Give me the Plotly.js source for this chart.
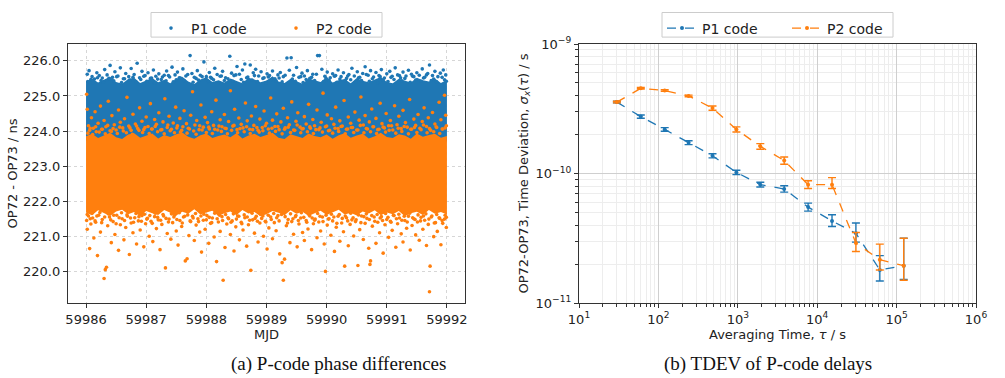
<!DOCTYPE html>
<html>
<head>
<meta charset="utf-8">
<script src="https://cdn.plot.ly/plotly-3.0.1.min.js"></script>
<style>html,body{margin:0;padding:0;background:#fff;}#chart{width:1005px;height:378px;}</style>
</head>
<body>
<div id="chart"></div>
<script>
// ---------- (a) P-code phase differences : dense core of each cloud (edges) ----------
const bandMjd = [59986.0,59986.1,59986.2,59986.3,59986.4,59986.5,59986.6,59986.7,59986.8,59986.9,
59987.0,59987.1,59987.2,59987.3,59987.4,59987.5,59987.6,59987.7,59987.8,59987.9,
59988.0,59988.1,59988.2,59988.3,59988.4,59988.5,59988.6,59988.7,59988.8,59988.9,
59989.0,59989.1,59989.2,59989.3,59989.4,59989.5,59989.6,59989.7,59989.8,59989.9,
59990.0,59990.1,59990.2,59990.3,59990.4,59990.5,59990.6,59990.7,59990.8,59990.9,
59991.0,59991.1,59991.2,59991.3,59991.4,59991.5,59991.6,59991.7,59991.8,59991.9,59992.0];
const p1CoreTop = [225.42,225.50,225.38,225.46,225.55,225.40,225.35,225.48,225.52,225.37,
225.44,225.51,225.39,225.46,225.36,225.49,225.55,225.41,225.34,225.47,
225.53,225.40,225.45,225.38,225.50,225.43,225.36,225.52,225.47,225.39,
225.44,225.56,225.41,225.37,225.49,225.42,225.35,225.50,225.46,225.40,
225.53,225.38,225.45,225.48,225.36,225.51,225.43,225.39,225.47,225.54,
225.40,225.36,225.49,225.44,225.38,225.52,225.45,225.41,225.50,225.37,225.46];
const p1CoreBottom = [223.72,223.68,223.75,223.70,223.66,223.73,223.69,223.74,223.67,223.71,
223.70,223.74,223.66,223.72,223.68,223.75,223.69,223.71,223.67,223.73,
223.72,223.68,223.75,223.70,223.66,223.73,223.69,223.74,223.67,223.71,
223.70,223.74,223.66,223.72,223.68,223.75,223.69,223.71,223.67,223.73,
223.72,223.68,223.75,223.70,223.66,223.73,223.69,223.74,223.67,223.71,
223.70,223.74,223.66,223.72,223.68,223.75,223.69,223.71,223.67,223.73,223.70];
const p2CoreTop = [223.85,223.92,223.80,223.88,223.95,223.82,223.77,223.90,223.94,223.81,
223.87,223.93,223.79,223.89,223.83,223.91,223.96,223.84,223.78,223.88,
223.93,223.80,223.86,223.90,223.82,223.94,223.79,223.87,223.92,223.83,
223.89,223.95,223.81,223.77,223.91,223.85,223.80,223.93,223.86,223.82,
223.90,223.78,223.88,223.94,223.81,223.87,223.92,223.79,223.85,223.95,
223.83,223.80,223.91,223.87,223.78,223.93,223.84,223.89,223.92,223.81,223.86];
const p2CoreBottom = [221.68,221.60,221.74,221.65,221.58,221.71,221.76,221.63,221.69,221.57,
221.72,221.66,221.61,221.75,221.67,221.59,221.70,221.64,221.77,221.62,
221.68,221.73,221.58,221.66,221.71,221.60,221.75,221.65,221.69,221.57,
221.63,221.72,221.67,221.60,221.74,221.64,221.70,221.58,221.66,221.73,
221.61,221.69,221.76,221.62,221.67,221.59,221.71,221.65,221.74,221.60,
221.68,221.63,221.72,221.57,221.66,221.70,221.61,221.75,221.64,221.69,221.62];

// ---------- (a) individual samples outside / at the edge of the dense cores: [MJD, ns] ----------
const p1Outer = [[59986.02,225.62],[59986.05,225.72],[59986.10,225.55],[59986.14,225.48],[59986.18,225.66],[59986.22,225.58],[59986.27,225.51],[59986.31,225.75],[59986.35,225.60],[59986.40,225.87],[59986.44,225.53],[59986.48,225.69],[59986.53,225.57],[59986.57,225.80],[59986.62,225.49],[59986.66,225.64],[59986.71,225.55],[59986.75,225.78],[59986.80,225.61],[59986.85,225.93],[59986.89,225.52],[59986.93,225.70],[59986.98,225.58],[59987.03,225.66],[59987.07,225.50],[59987.12,225.74],[59987.16,225.56],[59987.21,225.63],[59987.25,225.47],[59987.30,225.59],[59987.34,225.71],[59987.39,225.54],[59987.43,225.82],[59987.48,225.60],[59987.52,225.68],[59987.57,225.51],[59987.61,225.77],[59987.66,225.57],[59987.73,226.15],[59987.76,225.64],[59987.80,225.53],[59987.85,225.72],[59987.90,225.59],[59987.96,225.97],[59988.00,225.55],[59988.05,225.67],[59988.09,225.50],[59988.14,225.79],[59988.18,225.61],[59988.23,225.56],[59988.27,225.70],[59988.32,225.52],[59988.39,226.13],[59988.42,225.65],[59988.46,225.58],[59988.51,225.84],[59988.55,225.62],[59988.60,225.74],[59988.64,225.91],[59988.69,225.54],[59988.73,225.88],[59988.78,225.66],[59988.82,225.76],[59988.87,225.57],[59988.91,225.69],[59988.96,225.52],[59989.01,225.63],[59989.05,225.58],[59989.10,225.71],[59989.14,225.49],[59989.19,225.60],[59989.23,225.67],[59989.28,225.55],[59989.34,226.08],[59989.38,225.73],[59989.41,226.09],[59989.45,225.59],[59989.50,225.81],[59989.54,225.53],[59989.59,225.65],[59989.63,225.57],[59989.68,225.72],[59989.72,225.50],[59989.77,225.62],[59989.85,226.15],[59989.88,226.15],[59989.92,225.76],[59989.97,225.56],[59990.01,225.68],[59990.06,225.52],[59990.10,225.63],[59990.15,225.58],[59990.19,225.74],[59990.24,225.55],[59990.28,225.66],[59990.33,225.50],[59990.37,225.61],[59990.42,225.79],[59990.46,225.57],[59990.51,225.69],[59990.55,225.53],[59990.60,225.64],[59990.64,225.83],[59990.69,225.59],[59990.73,225.72],[59990.78,225.54],[59990.82,225.67],[59990.87,225.58],[59990.91,225.75],[59990.96,225.51],[59991.00,225.63],[59991.05,225.70],[59991.09,225.56],[59991.14,225.80],[59991.18,225.60],[59991.23,225.52],[59991.27,225.68],[59991.32,225.57],[59991.36,225.73],[59991.41,225.62],[59991.45,225.55],[59991.50,225.66],[59991.54,225.59],[59991.59,225.77],[59991.63,225.53],[59991.68,225.64],[59991.71,225.88],[59991.76,225.58],[59991.80,225.70],[59991.85,225.55],[59991.89,225.65],[59991.94,225.74],[59991.98,225.60]];

const p1Edge = [[59986.03,225.41],[59986.08,225.47],[59986.12,225.36],[59986.19,225.52],[59986.25,225.44],[59986.29,225.39],[59986.38,225.50],[59986.46,225.43],[59986.51,225.55],[59986.59,225.38],[59986.64,225.49],[59986.73,225.45],[59986.78,225.53],[59986.83,225.40],[59986.91,225.47],[59986.96,225.56],[59987.01,225.42],[59987.09,225.51],[59987.14,225.37],[59987.19,225.48],[59987.27,225.54],[59987.33,225.43],[59987.37,225.58],[59987.45,225.40],[59987.50,225.46],[59987.55,225.52],[59987.63,225.44],[59987.69,225.61],[59987.78,225.39],[59987.83,225.50],[59987.87,225.45],[59987.93,225.55],[59988.03,225.41],[59988.07,225.53],[59988.12,225.46],[59988.21,225.38],[59988.25,225.57],[59988.30,225.44],[59988.36,225.49],[59988.44,225.42],[59988.49,225.60],[59988.58,225.47],[59988.62,225.39],[59988.67,225.52],[59988.76,225.45],[59988.80,225.58],[59988.85,225.41],[59988.94,225.50],[59988.99,225.37],[59989.03,225.54],[59989.08,225.46],[59989.16,225.43],[59989.21,225.51],[59989.26,225.40],[59989.31,225.59],[59989.43,225.48],[59989.48,225.42],[59989.57,225.55],[59989.61,225.38],[59989.66,225.47],[59989.75,225.53],[59989.80,225.44],[59989.83,225.62],[59989.95,225.41],[59989.99,225.50],[59990.04,225.45],[59990.13,225.56],[59990.17,225.39],[59990.22,225.48],[59990.31,225.43],[59990.35,225.57],[59990.40,225.46],[59990.49,225.40],[59990.53,225.52],[59990.58,225.44],[59990.66,225.61],[59990.71,225.42],[59990.76,225.49],[59990.85,225.38],[59990.89,225.55],[59990.94,225.46],[59991.02,225.41],[59991.07,225.53],[59991.12,225.47],[59991.21,225.58],[59991.25,225.43],[59991.30,225.50],[59991.39,225.39],[59991.43,225.56],[59991.48,225.45],[59991.57,225.42],[59991.61,225.51],[59991.66,225.60],[59991.74,225.44],[59991.78,225.48],[59991.83,225.40],[59991.92,225.53],[59991.96,225.46],[59991.99,225.42]];

const p2OuterHigh = [[59986.01,225.05],[59986.02,224.62],[59986.04,224.15],[59986.06,224.02],[59986.09,224.38],[59986.12,224.08],[59986.15,224.55],[59986.17,223.98],[59986.20,224.22],[59986.24,224.71],[59986.27,224.05],[59986.30,224.30],[59986.33,224.12],[59986.37,224.85],[59986.40,224.01],[59986.43,224.44],[59986.47,224.18],[59986.50,224.03],[59986.54,224.60],[59986.57,224.25],[59986.61,224.09],[59986.64,224.35],[59986.68,224.96],[59986.71,224.14],[59986.75,224.02],[59986.78,224.48],[59986.82,224.20],[59986.86,224.07],[59986.89,224.66],[59986.93,224.28],[59986.96,224.04],[59987.00,224.40],[59987.03,224.13],[59987.07,224.78],[59987.10,224.06],[59987.14,224.33],[59987.17,224.19],[59987.21,224.52],[59987.24,224.03],[59987.28,224.26],[59987.31,224.92],[59987.35,224.10],[59987.38,224.42],[59987.42,224.05],[59987.45,224.23],[59987.49,224.68],[59987.52,224.15],[59987.56,224.36],[59987.59,224.02],[59987.63,224.58],[59987.67,224.21],[59987.70,224.08],[59987.74,224.45],[59987.77,225.12],[59987.81,224.17],[59987.84,224.30],[59987.88,224.04],[59987.91,224.74],[59987.95,224.11],[59987.98,224.39],[59988.02,224.24],[59988.05,224.06],[59988.09,224.55],[59988.12,224.16],[59988.16,224.88],[59988.19,224.03],[59988.23,224.32],[59988.26,224.12],[59988.30,224.47],[59988.33,224.07],[59988.37,224.27],[59988.40,225.15],[59988.44,224.14],[59988.47,224.62],[59988.51,224.04],[59988.54,224.37],[59988.58,224.19],[59988.61,224.09],[59988.65,224.80],[59988.68,224.29],[59988.72,224.05],[59988.75,224.43],[59988.79,224.16],[59988.82,224.70],[59988.86,224.02],[59988.89,224.34],[59988.93,224.10],[59988.96,224.57],[59989.00,224.22],[59989.03,224.06],[59989.07,224.94],[59989.10,224.31],[59989.14,224.13],[59989.17,224.49],[59989.21,224.04],[59989.24,224.26],[59989.28,224.65],[59989.31,224.09],[59989.35,224.38],[59989.38,224.18],[59989.42,224.83],[59989.45,224.03],[59989.49,224.28],[59989.52,224.52],[59989.56,224.11],[59989.59,224.06],[59989.63,224.41],[59989.66,224.20],[59989.70,224.76],[59989.73,224.08],[59989.77,224.33],[59989.80,224.15],[59989.84,224.60],[59989.87,224.04],[59989.91,224.25],[59989.94,225.08],[59989.98,224.12],[59990.01,224.46],[59990.05,224.02],[59990.08,224.35],[59990.12,224.19],[59990.15,224.68],[59990.19,224.07],[59990.22,224.29],[59990.26,224.14],[59990.29,224.87],[59990.33,224.05],[59990.36,224.40],[59990.40,224.22],[59990.43,224.10],[59990.47,224.54],[59990.50,224.03],[59990.54,224.31],[59990.57,224.97],[59990.61,224.17],[59990.64,224.44],[59990.68,224.06],[59990.71,224.26],[59990.75,224.63],[59990.78,224.12],[59990.82,224.36],[59990.85,224.04],[59990.89,224.79],[59990.92,224.21],[59990.96,224.09],[59990.99,224.50],[59991.03,224.15],[59991.06,224.30],[59991.10,224.03],[59991.13,224.72],[59991.17,224.18],[59991.20,224.42],[59991.24,224.07],[59991.27,224.59],[59991.31,224.24],[59991.34,224.11],[59991.38,224.90],[59991.41,224.05],[59991.45,224.34],[59991.48,224.16],[59991.52,224.47],[59991.55,224.08],[59991.59,224.27],[59991.62,224.66],[59991.66,224.13],[59991.69,224.38],[59991.73,224.02],[59991.76,224.53],[59991.80,224.20],[59991.83,224.10],[59991.87,224.82],[59991.90,224.32],[59991.93,224.06],[59991.96,225.02],[59991.98,224.45],[59991.99,224.15]];

const p2EdgeHigh = [[59986.03,223.94],[59986.07,224.08],[59986.11,223.90],[59986.16,224.12],[59986.22,223.97],[59986.26,224.05],[59986.32,223.92],[59986.36,224.16],[59986.42,223.99],[59986.45,224.07],[59986.52,223.93],[59986.56,224.11],[59986.62,224.00],[59986.67,223.95],[59986.73,224.09],[59986.77,223.91],[59986.84,224.14],[59986.88,224.02],[59986.94,223.96],[59986.98,224.10],[59987.05,223.93],[59987.09,224.06],[59987.15,224.13],[59987.19,223.98],[59987.26,224.04],[59987.30,223.92],[59987.36,224.17],[59987.40,224.01],[59987.47,223.95],[59987.51,224.09],[59987.57,223.97],[59987.61,224.12],[59987.68,223.94],[59987.72,224.06],[59987.79,224.00],[59987.83,223.91],[59987.89,224.15],[59987.93,224.03],[59988.00,223.96],[59988.04,224.11],[59988.10,223.93],[59988.14,224.05],[59988.21,224.14],[59988.25,223.99],[59988.31,224.08],[59988.35,223.92],[59988.42,224.02],[59988.46,224.16],[59988.52,223.95],[59988.56,224.07],[59988.63,223.98],[59988.67,224.12],[59988.73,223.93],[59988.77,224.04],[59988.84,224.10],[59988.88,223.97],[59988.94,224.01],[59988.98,224.15],[59989.05,223.94],[59989.09,224.08],[59989.15,223.99],[59989.19,224.13],[59989.26,223.92],[59989.30,224.05],[59989.36,224.11],[59989.40,223.96],[59989.47,224.02],[59989.51,224.17],[59989.57,223.95],[59989.61,224.07],[59989.68,223.98],[59989.72,224.12],[59989.78,223.93],[59989.82,224.04],[59989.89,224.09],[59989.93,223.97],[59990.00,224.14],[59990.03,224.01],[59990.10,223.94],[59990.14,224.08],[59990.20,223.99],[59990.24,224.13],[59990.31,223.92],[59990.35,224.06],[59990.41,224.10],[59990.45,223.96],[59990.52,224.03],[59990.56,224.16],[59990.62,223.95],[59990.66,224.07],[59990.73,223.98],[59990.77,224.12],[59990.83,223.93],[59990.87,224.05],[59990.94,224.11],[59990.98,223.97],[59991.04,224.02],[59991.08,224.15],[59991.15,223.94],[59991.19,224.08],[59991.25,223.99],[59991.29,224.13],[59991.36,223.92],[59991.40,224.05],[59991.46,224.10],[59991.50,223.96],[59991.57,224.04],[59991.61,224.17],[59991.67,223.95],[59991.71,224.07],[59991.78,223.98],[59991.82,224.12],[59991.88,223.93],[59991.92,224.06],[59991.97,224.09]];

const p2OuterLow = [[59986.01,221.45],[59986.02,221.20],[59986.04,221.58],[59986.06,220.65],[59986.08,221.35],[59986.11,221.52],[59986.13,220.95],[59986.16,221.40],[59986.19,220.45],[59986.21,221.60],[59986.24,221.12],[59986.27,221.48],[59986.30,219.80],[59986.32,220.05],[59986.34,220.12],[59986.36,221.30],[59986.39,221.55],[59986.42,220.82],[59986.45,221.42],[59986.48,221.05],[59986.51,221.60],[59986.54,220.60],[59986.57,221.33],[59986.60,221.50],[59986.63,220.90],[59986.66,221.25],[59986.69,221.57],[59986.72,220.48],[59986.75,221.38],[59986.78,221.10],[59986.81,221.53],[59986.84,220.78],[59986.87,221.44],[59986.90,221.18],[59986.93,221.59],[59986.96,220.70],[59986.99,221.36],[59987.02,221.51],[59987.05,221.00],[59987.08,221.43],[59987.11,220.85],[59987.14,221.56],[59987.17,221.22],[59987.20,221.47],[59987.23,220.62],[59987.26,221.34],[59987.29,221.58],[59987.32,220.10],[59987.35,221.08],[59987.38,221.49],[59987.41,220.92],[59987.44,221.39],[59987.47,221.60],[59987.50,221.15],[59987.53,220.75],[59987.56,221.45],[59987.59,221.28],[59987.62,221.55],[59987.65,220.30],[59987.68,220.36],[59987.71,221.02],[59987.74,221.42],[59987.77,221.57],[59987.80,220.88],[59987.83,221.32],[59987.86,221.50],[59987.89,221.12],[59987.92,220.55],[59987.95,221.46],[59987.98,221.20],[59988.01,221.59],[59988.04,220.80],[59988.07,221.37],[59988.10,221.52],[59988.13,220.98],[59988.17,220.28],[59988.20,221.41],[59988.23,221.14],[59988.26,221.56],[59988.28,219.75],[59988.31,220.68],[59988.34,221.35],[59988.37,221.50],[59988.40,221.05],[59988.43,221.44],[59988.46,220.58],[59988.49,221.27],[59988.52,221.58],[59988.55,220.90],[59988.58,221.40],[59988.61,221.18],[59988.64,221.53],[59988.67,220.72],[59988.70,221.33],[59988.74,220.03],[59988.77,221.47],[59988.80,221.09],[59988.83,221.57],[59988.86,220.84],[59988.89,221.38],[59988.92,221.51],[59988.95,221.00],[59988.98,221.43],[59989.01,220.64],[59989.04,221.24],[59989.07,221.55],[59989.10,220.93],[59989.13,221.39],[59989.16,221.16],[59989.19,221.59],[59989.22,220.50],[59989.26,220.25],[59989.28,219.75],[59989.30,220.35],[59989.33,221.30],[59989.36,221.48],[59989.39,220.82],[59989.42,221.42],[59989.45,221.06],[59989.48,221.56],[59989.51,220.70],[59989.54,221.35],[59989.57,221.52],[59989.60,221.11],[59989.63,220.88],[59989.66,221.45],[59989.69,221.21],[59989.72,221.58],[59989.75,220.62],[59989.78,221.36],[59989.81,221.49],[59989.84,220.96],[59989.87,221.41],[59989.90,221.15],[59989.93,221.55],[59989.96,220.78],[59989.98,220.00],[59990.01,221.32],[59990.04,221.50],[59990.07,221.03],[59990.10,221.44],[59990.13,220.57],[59990.16,221.26],[59990.19,221.57],[59990.22,220.86],[59990.25,221.38],[59990.28,221.13],[59990.30,220.15],[59990.33,221.53],[59990.36,220.73],[59990.39,221.34],[59990.42,221.47],[59990.45,221.01],[59990.48,221.42],[59990.52,220.17],[59990.55,221.19],[59990.58,221.58],[59990.61,220.91],[59990.64,221.37],[59990.67,221.51],[59990.70,220.66],[59990.72,220.20],[59990.73,220.30],[59990.76,221.29],[59990.79,221.55],[59990.82,220.80],[59990.85,221.40],[59990.88,221.10],[59990.91,221.56],[59990.94,220.52],[59990.97,221.33],[59991.00,221.48],[59991.03,220.97],[59991.06,221.43],[59991.09,221.17],[59991.12,221.59],[59991.15,220.69],[59991.18,221.36],[59991.21,221.52],[59991.24,221.07],[59991.27,220.84],[59991.30,221.45],[59991.33,221.23],[59991.36,221.57],[59991.39,220.61],[59991.42,221.31],[59991.45,221.50],[59991.48,221.04],[59991.51,221.41],[59991.54,220.89],[59991.57,221.54],[59991.60,221.20],[59991.63,221.46],[59991.66,220.74],[59991.69,221.34],[59991.71,219.42],[59991.72,220.15],[59991.75,221.58],[59991.78,220.99],[59991.81,221.39],[59991.84,221.14],[59991.87,221.53],[59991.90,220.76],[59991.93,221.37],[59991.96,221.49],[59991.99,221.25]];

const p2EdgeLow = [[59986.02,221.62],[59986.07,221.50],[59986.10,221.66],[59986.15,221.44],[59986.18,221.58],[59986.23,221.68],[59986.26,221.39],[59986.31,221.55],[59986.37,221.64],[59986.41,221.47],[59986.46,221.60],[59986.50,221.36],[59986.55,221.53],[59986.59,221.67],[59986.64,221.45],[59986.68,221.61],[59986.74,221.52],[59986.79,221.40],[59986.83,221.65],[59986.88,221.56],[59986.92,221.43],[59986.97,221.63],[59987.01,221.49],[59987.06,221.59],[59987.10,221.37],[59987.15,221.66],[59987.19,221.54],[59987.24,221.46],[59987.28,221.62],[59987.33,221.51],[59987.37,221.41],[59987.42,221.64],[59987.46,221.55],[59987.51,221.48],[59987.55,221.67],[59987.60,221.38],[59987.64,221.57],[59987.69,221.61],[59987.73,221.44],[59987.78,221.52],[59987.82,221.65],[59987.87,221.42],[59987.91,221.58],[59987.96,221.63],[59988.00,221.47],[59988.05,221.54],[59988.09,221.39],[59988.14,221.66],[59988.18,221.50],[59988.22,221.60],[59988.27,221.45],[59988.32,221.62],[59988.36,221.53],[59988.41,221.40],[59988.45,221.64],[59988.50,221.49],[59988.54,221.57],[59988.59,221.36],[59988.63,221.61],[59988.68,221.55],[59988.72,221.46],[59988.76,221.66],[59988.81,221.51],[59988.85,221.43],[59988.90,221.63],[59988.94,221.58],[59988.99,221.41],[59989.03,221.60],[59989.08,221.48],[59989.12,221.65],[59989.17,221.53],[59989.21,221.44],[59989.25,221.62],[59989.31,221.56],[59989.35,221.38],[59989.40,221.64],[59989.44,221.50],[59989.49,221.59],[59989.53,221.45],[59989.58,221.67],[59989.62,221.54],[59989.67,221.40],[59989.71,221.61],[59989.76,221.52],[59989.80,221.46],[59989.85,221.65],[59989.89,221.57],[59989.94,221.42],[59989.99,221.60],[59990.03,221.49],[59990.08,221.63],[59990.12,221.55],[59990.17,221.37],[59990.21,221.62],[59990.26,221.51],[59990.31,221.58],[59990.35,221.44],[59990.40,221.66],[59990.44,221.53],[59990.49,221.47],[59990.53,221.61],[59990.57,221.39],[59990.62,221.56],[59990.66,221.64],[59990.71,221.48],[59990.75,221.59],[59990.80,221.43],[59990.84,221.62],[59990.89,221.52],[59990.93,221.45],[59990.98,221.65],[59991.02,221.54],[59991.07,221.40],[59991.11,221.60],[59991.16,221.50],[59991.20,221.63],[59991.25,221.46],[59991.29,221.57],[59991.34,221.41],[59991.38,221.66],[59991.43,221.53],[59991.47,221.48],[59991.52,221.61],[59991.56,221.44],[59991.61,221.58],[59991.65,221.64],[59991.70,221.49],[59991.74,221.55],[59991.79,221.38],[59991.83,221.62],[59991.88,221.51],[59991.92,221.45],[59991.97,221.60],[59991.99,221.54]];

// ---------- (b) TDEV of P-code delays ----------
const tau = [30, 60, 120, 240, 480, 960, 1920, 3840, 7680, 15360, 30720, 61440, 122880];
const p1Tdev = [3.56e-10, 2.75e-10, 2.19e-10, 1.73e-10, 1.37e-10, 1.02e-10, 8.2e-11, 7.6e-11, 5.5e-11, 4.3e-11, 3.45e-11, 1.80e-11, 1.94e-11];
const p1ErrUp = [0.5e-11, 0.8e-11, 0.7e-11, 0.6e-11, 0.5e-11, 0.4e-11, 0.35e-11, 0.45e-11, 0.4e-11, 0.5e-11, 0.7e-11, 0.52e-11, 1.22e-11];
const p1ErrDown = [0.5e-11, 0.8e-11, 0.7e-11, 0.6e-11, 0.5e-11, 0.4e-11, 0.33e-11, 0.42e-11, 0.38e-11, 0.4e-11, 0.5e-11, 0.32e-11, 0.42e-11];
const p2Tdev = [3.56e-10, 4.55e-10, 4.37e-10, 3.97e-10, 3.2e-10, 2.19e-10, 1.62e-10, 1.26e-10, 8.2e-11, 8.2e-11, 2.9e-11, 2.16e-11, 1.94e-11];
const p2ErrUp = [0.5e-11, 0.6e-11, 0.6e-11, 0.6e-11, 1.2e-11, 1.0e-11, 0.8e-11, 0.8e-11, 0.6e-11, 1.1e-11, 0.6e-11, 0.69e-11, 1.22e-11];
const p2ErrDown = [0.5e-11, 0.6e-11, 0.6e-11, 0.6e-11, 1.2e-11, 1.0e-11, 0.8e-11, 0.8e-11, 0.55e-11, 0.55e-11, 0.4e-11, 0.36e-11, 0.44e-11];

const seriesNames = ['P1 code', 'P2 code'];
const leftYTicks = [220, 221, 222, 223, 224, 225, 226];
const leftXTicks = [59986, 59987, 59988, 59989, 59990, 59991, 59992];
const xDecades = [1, 2, 3, 4, 5, 6];
const yDecades = [-11, -10, -9];

// ---------- styling ----------
const BLUE = '#1f77b4', ORANGE = '#ff7f0e';
const FONT = 'DejaVu Sans, sans-serif';
const TXT = '#222';
const pow10 = e => Math.pow(10, e);
const supText = e => '10<sup>' + (e < 0 ? '\u2212' + (-e) : e) + '</sup>';
function minorVals(decs) {
  const out = [];
  for (let i = 0; i < decs.length - 1; i++) for (let m = 2; m <= 9; m++) out.push(m * pow10(decs[i]));
  return out;
}
const xs = (...arrs) => [].concat(...arrs.map(a => a.map(p => p[0])));
const ys = (...arrs) => [].concat(...arrs.map(a => a.map(p => p[1])));

const common = {hoverinfo: 'skip'};
const traces = [
  Object.assign({x: bandMjd, y: p1CoreBottom, mode: 'lines', line: {width: 0, color: BLUE}, showlegend: false, xaxis: 'x', yaxis: 'y'}, common),
  Object.assign({x: bandMjd, y: p1CoreTop, mode: 'lines', line: {width: 0, color: BLUE}, fill: 'tonexty', fillcolor: BLUE, showlegend: false, xaxis: 'x', yaxis: 'y'}, common),
  Object.assign({x: xs(p1Edge, p1Outer), y: ys(p1Edge, p1Outer), mode: 'markers', name: seriesNames[0], marker: {color: BLUE, size: 3.6}, xaxis: 'x', yaxis: 'y', legend: 'legend'}, common),
  Object.assign({x: bandMjd, y: p2CoreBottom, mode: 'lines', line: {width: 0, color: ORANGE}, showlegend: false, xaxis: 'x', yaxis: 'y'}, common),
  Object.assign({x: bandMjd, y: p2CoreTop, mode: 'lines', line: {width: 0, color: ORANGE}, fill: 'tonexty', fillcolor: ORANGE, showlegend: false, xaxis: 'x', yaxis: 'y'}, common),
  Object.assign({x: xs(p2EdgeHigh, p2OuterHigh, p2EdgeLow, p2OuterLow), y: ys(p2EdgeHigh, p2OuterHigh, p2EdgeLow, p2OuterLow), mode: 'markers', name: seriesNames[1], marker: {color: ORANGE, size: 3.6}, xaxis: 'x', yaxis: 'y', legend: 'legend3'}, common),
  Object.assign({x: tau, y: p1Tdev, mode: 'lines+markers', name: seriesNames[0], line: {color: BLUE, width: 1.3, dash: 'dash'}, marker: {color: BLUE, size: 4},
    error_y: {type: 'data', symmetric: false, array: p1ErrUp, arrayminus: p1ErrDown, color: BLUE, thickness: 1.4, width: 4}, xaxis: 'x2', yaxis: 'y2', legend: 'legend2'}, common),
  Object.assign({x: tau, y: p2Tdev, mode: 'lines+markers', name: seriesNames[1], line: {color: ORANGE, width: 1.3, dash: 'dash'}, marker: {color: ORANGE, size: 4},
    error_y: {type: 'data', symmetric: false, array: p2ErrUp, arrayminus: p2ErrDown, color: ORANGE, thickness: 1.4, width: 4}, xaxis: 'x2', yaxis: 'y2', legend: 'legend4'}, common)
];

const axisBase = {showline: true, mirror: true, linecolor: '#333', linewidth: 1.2, ticks: 'outside', ticklen: 4, tickcolor: '#333',
  tickfont: {family: FONT, size: 13, color: TXT}, zeroline: false};

// one legend per entry (placed side by side), framed by a shared box drawn as a shape
const legendBase = {orientation: 'h', xanchor: 'left', yanchor: 'top', bgcolor: 'rgba(0,0,0,0)', borderwidth: 0,
  font: {family: FONT, size: 14, color: TXT}, itemclick: false, itemdoubleclick: false, y: 1.1217};
const px2x = px => (px - 68) / 908;
const px2y = py => (303 - py) / 263;

const layout = {
  width: 1005, height: 378,
  margin: {l: 68, r: 29, t: 40, b: 75},
  paper_bgcolor: '#fff', plot_bgcolor: '#fff',
  font: {family: FONT, size: 13, color: TXT},
  xaxis: Object.assign({}, axisBase, {domain: [0, 0.4372], range: [59985.7, 59992.3], tickvals: leftXTicks, tickformat: 'd',
    showgrid: true, gridcolor: '#d6d6d6', griddash: 'dot', gridwidth: 1,
    title: {text: 'MJD', font: {family: FONT, size: 13, color: TXT}, standoff: 4}}),
  yaxis: Object.assign({}, axisBase, {domain: [0, 1], range: [219.1, 226.48], tickvals: leftYTicks, tickformat: '.1f',
    showgrid: true, gridcolor: '#d6d6d6', griddash: 'dot', gridwidth: 1,
    title: {text: 'OP72 - OP73 / ns', font: {family: FONT, size: 13, color: TXT}, standoff: 2}}),
  xaxis2: Object.assign({}, axisBase, {domain: [0.5628, 1], type: 'log', range: [1, 6], anchor: 'y2',
    tickmode: 'array', tickvals: xDecades.map(pow10), ticktext: xDecades.map(supText),
    showgrid: true, gridcolor: '#cfcfcf', gridwidth: 1,
    minor: {tickmode: 'array', tickvals: minorVals(xDecades), ticks: 'outside', ticklen: 2.5, tickcolor: '#333', showgrid: true, gridcolor: '#ededed', gridwidth: 1},
    title: {text: 'Averaging Time, <i>τ</i> / s', font: {family: FONT, size: 13, color: TXT}, standoff: 4}}),
  yaxis2: Object.assign({}, axisBase, {domain: [0, 1], type: 'log', range: [-11, -9], anchor: 'x2',
    tickmode: 'array', tickvals: yDecades.map(pow10), ticktext: yDecades.map(supText),
    showgrid: true, gridcolor: '#cfcfcf', gridwidth: 1,
    minor: {tickmode: 'array', tickvals: minorVals(yDecades), ticks: 'outside', ticklen: 2.5, tickcolor: '#333', showgrid: true, gridcolor: '#ededed', gridwidth: 1},
    title: {text: 'OP72-OP73, Time Deviation, <i>σ<sub>x</sub></i>(<i>τ</i>) / s', font: {family: FONT, size: 13, color: TXT}, standoff: 4}}),
  legend: Object.assign({}, legendBase, {x: px2x(151)}),
  legend3: Object.assign({}, legendBase, {x: px2x(276)}),
  legend2: Object.assign({}, legendBase, {x: px2x(662)}),
  legend4: Object.assign({}, legendBase, {x: px2x(787)}),
  shapes: [
    {type: 'rect', xref: 'paper', yref: 'paper', x0: px2x(151), x1: px2x(382), y0: px2y(33), y1: px2y(8), line: {color: '#cccccc', width: 1}, fillcolor: '#fff', layer: 'above'},
    {type: 'rect', xref: 'paper', yref: 'paper', x0: px2x(662), x1: px2x(893), y0: px2y(33), y1: px2y(8), line: {color: '#cccccc', width: 1}, fillcolor: '#fff', layer: 'above'}
  ],
  annotations: [
    {text: '(a) P-code phase differences', xref: 'paper', yref: 'paper', x: 0.2974, y: -0.2357, xanchor: 'center', yanchor: 'middle', showarrow: false,
      font: {family: 'Liberation Serif, Times New Roman, serif', size: 19, color: '#111'}},
    {text: '(b) TDEV of P-code delays', xref: 'paper', yref: 'paper', x: 0.771, y: -0.2357, xanchor: 'center', yanchor: 'middle', showarrow: false,
      font: {family: 'Liberation Serif, Times New Roman, serif', size: 19, color: '#111'}}
  ]
};

Plotly.newPlot('chart', traces, layout, {displayModeBar: false, staticPlot: true});
</script>
</body>
</html>
